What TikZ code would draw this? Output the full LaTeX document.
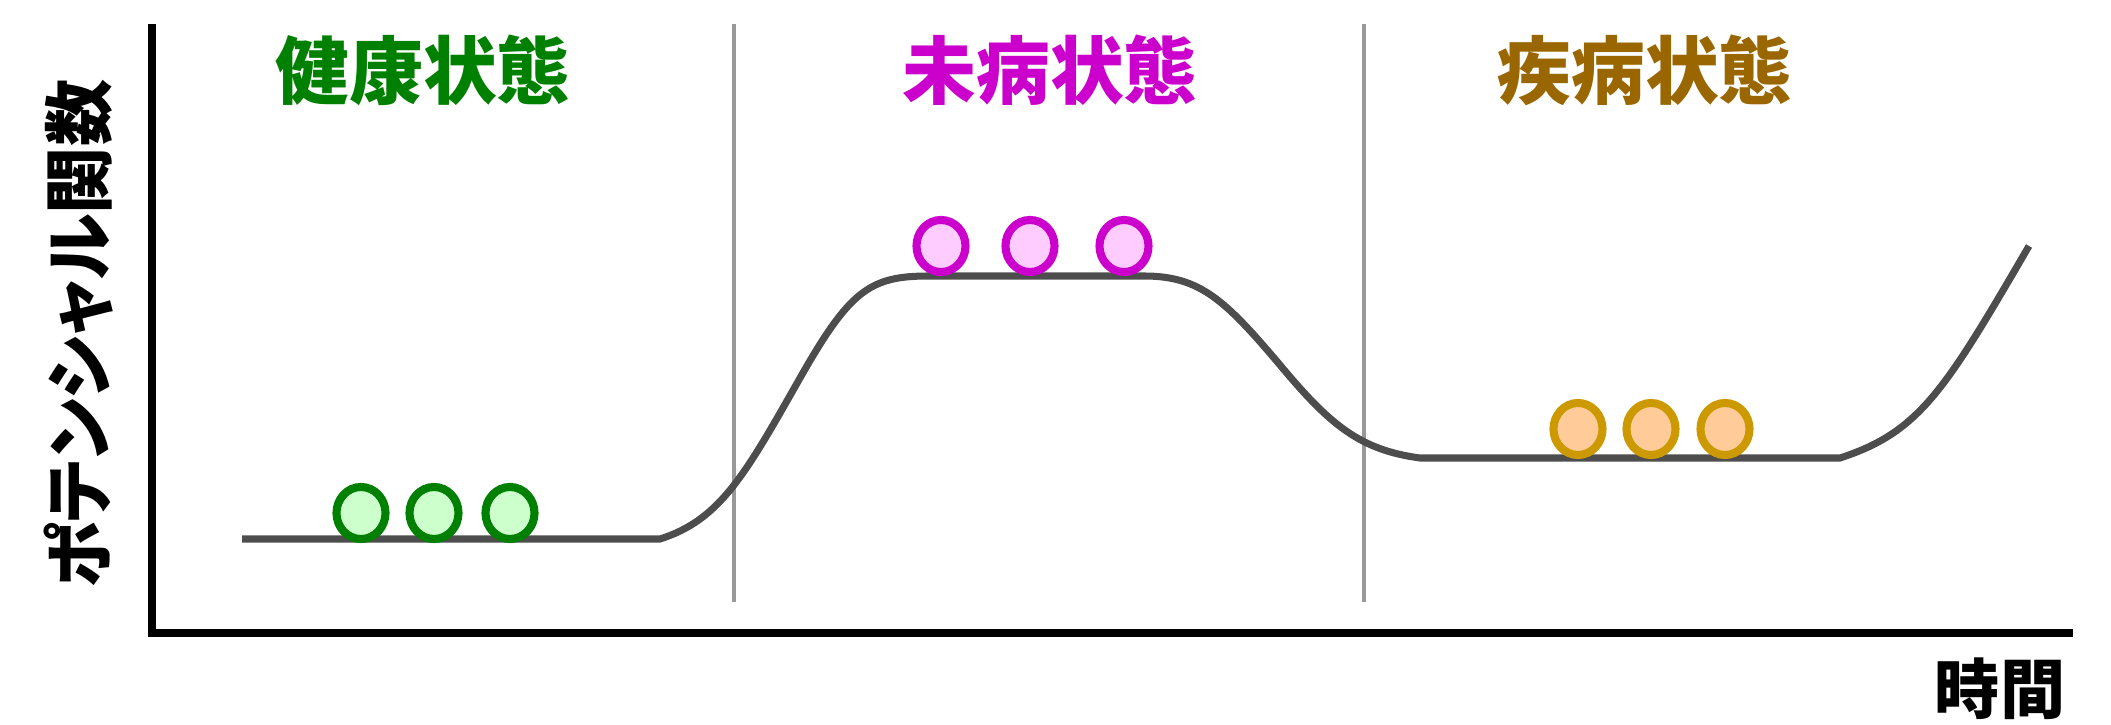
\documentclass[tikz,border=0pt]{standalone}
\usepackage{fontspec}
\newfontfamily\jpfont{Noto Sans CJK JP}
\newfontfamily\jpfontp{Noto Sans CJK JP}[RawFeature=+palt]
\usetikzlibrary{shapes.geometric}
\usepackage{xcolor}
\definecolor{healthGreen}{HTML}{008000}
\definecolor{healthFill}{HTML}{CCFFCC}
\definecolor{mibyoMagenta}{HTML}{CC00CC}
\definecolor{mibyoFill}{HTML}{FFCCFF}
\definecolor{sickBrown}{HTML}{996600}
\definecolor{sickRing}{HTML}{CC9900}
\definecolor{sickFill}{HTML}{FFCC99}
\definecolor{curveGray}{HTML}{4D4D4D}
\definecolor{splitGray}{HTML}{999999}

\begin{document}
\begin{tikzpicture}[x=0.01cm,y=-0.01cm]
\tikzstyle{state}=[font=\jpfont\bfseries\fontsize{21}{25}\selectfont,inner sep=0pt]
\tikzstyle{axislabel}=[font=\jpfontp\bfseries\fontsize{20}{24}\selectfont,inner sep=0pt]
\tikzstyle{ball}=[ellipse,line width=2.3pt,minimum width=0.49cm,minimum height=0.52cm,inner sep=0pt]
\useasboundingbox (0,0) rectangle (2111,725);
% axes
\coordinate (top) at (152,24);
\coordinate (origin) at (152,633);
\coordinate (right) at (2073,633);
\draw[line width=2.1pt] (top) -- (origin) -- (right);
% borders between the states
\draw[splitGray,line width=0.9pt] (734,24) -- (734,602);
\draw[splitGray,line width=0.9pt] (1364,24) -- (1364,602);
% potential curve
\draw[curveGray,line width=2pt] (242,539) -- (660,539)
  .. controls (720,520) and (745,475) .. (800,378)
  .. controls (850,290) and (870,276) .. (929,276) -- (1144,276)
  .. controls (1200,276) and (1225,300) .. (1280,365)
  .. controls (1330,425) and (1360,450) .. (1420,458) -- (1840,458)
  .. controls (1920,432) and (1945,390) .. (2029,246);
% balls
\foreach \i/\x in {1/361,2/434,3/510}
  \node[ball,draw=healthGreen,fill=healthFill] (g\i) at (\x,513) {};
\foreach \i/\x in {1/941,2/1030,3/1124}
  \node[ball,draw=mibyoMagenta,fill=mibyoFill] (p\i) at (\x,246) {};
\foreach \i/\x in {1/1578,2/1651,3/1725}
  \node[ball,draw=sickRing,fill=sickFill] (o\i) at (\x,429) {};
% labels
\node[state,text=healthGreen] (healthy) at (423,70) {健康状態};
\node[state,text=mibyoMagenta] (mibyo) at (1050,70) {未病状態};
\node[state,text=sickBrown] (sick) at (1645,70) {疾病状態};
\node[axislabel,rotate=90,xscale=0.955] (potential) at (79,334) {ポテンシャル関数};
\node[state,font=\jpfont\bfseries\fontsize{18.5}{22}\selectfont] (time) at (2000,689) {時間};
\end{tikzpicture}
\end{document}
